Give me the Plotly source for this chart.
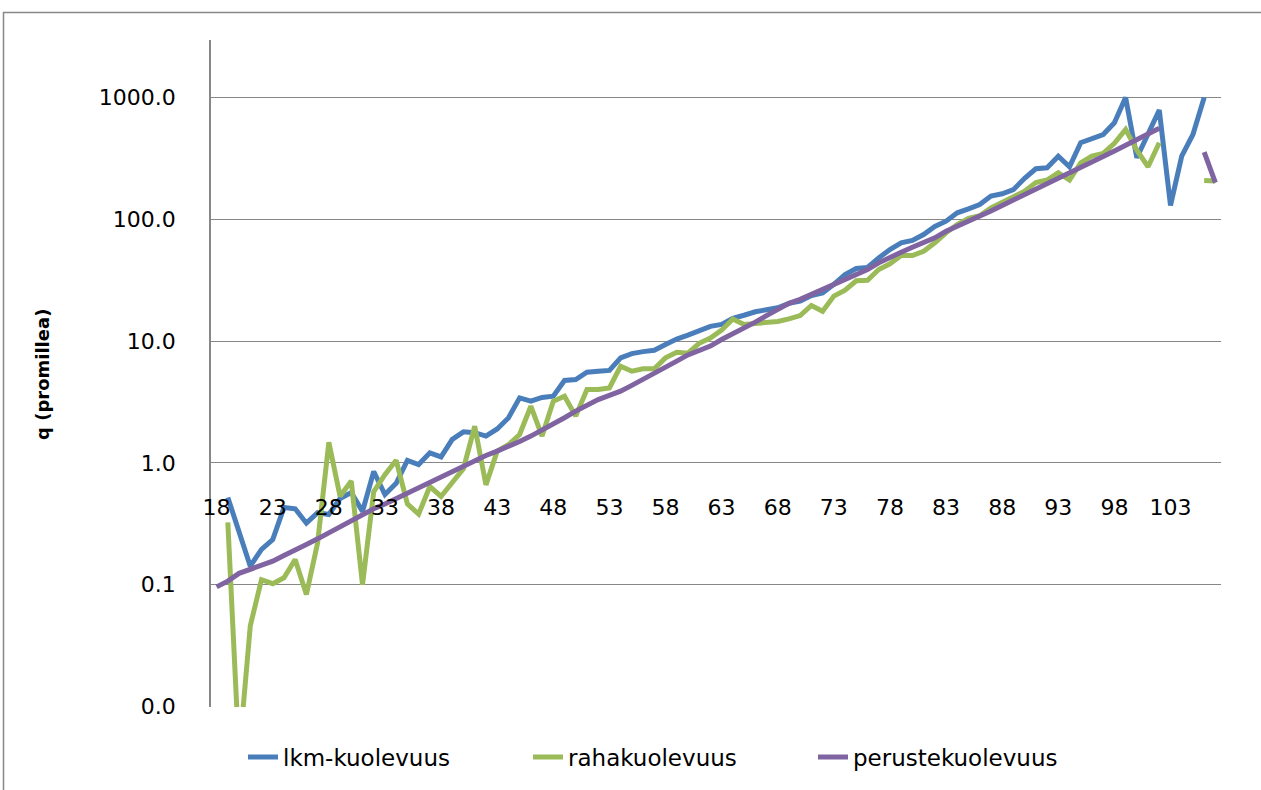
import plotly.graph_objects as go

ages = list(range(18, 108))

lkm_kuolevuus = [
    None, 0.52, 0.27, 0.142, 0.195, 0.235, 0.43, 0.42, 0.32, 0.39,
    0.377, 0.51, 0.57, 0.40, 0.85, 0.55, 0.68, 1.05, 0.97, 1.21,
    1.12, 1.56, 1.80, 1.77, 1.66, 1.90, 2.34, 3.42, 3.21, 3.45,
    3.53, 4.75, 4.84, 5.55, 5.66, 5.75, 7.28, 7.90, 8.2, 8.42,
    9.37, 10.4, 11.2, 12.1, 13.2, 13.7, 15.4, 16.3, 17.4, 18.1,
    18.8, 20.4, 21.3, 23.7, 24.9, 29.2, 35.2, 39.5, 40.3, 48.2,
    56.5, 64.1, 67.0, 75.0, 87.3, 96.5, 113, 122, 132, 155,
    162, 175, 217, 260, 265, 330, 270, 425, 458, 497,
    620, 1000, 320, 503, 787, 130, 330, 497, 1000, None,
]

rahakuolevuus = [
    None, 0.325, 0.004, 0.046, 0.110, 0.102, 0.114, 0.161, 0.083, 0.221,
    1.48, 0.533, 0.71, 0.10, 0.58, 0.8, 1.05, 0.46, 0.38, 0.64,
    0.53, 0.69, 0.9, 2.0, 0.66, 1.25, 1.41, 1.71, 2.92, 1.66,
    3.21, 3.53, 2.42, 4.0, 4.0, 4.13, 6.22, 5.66, 5.92, 5.92,
    7.28, 8.1, 7.95, 9.6, 10.6, 12.3, 15.2, 13.7, 14.0, 14.0,
    14.5, 15.2, 16.2, 19.6, 17.6, 23.4, 26.2, 31.3, 31.6, 38.7,
    43.1, 50.4, 50.4, 54.7, 64.1, 77.5, 90.6, 102, 107, 124,
    137, 150, 170, 200, 210, 241, 210, 291, 330, 347,
    420, 547, 370, 270, 425, None, None, None, 208, 206,
]

perustekuolevuus = [
    0.096, 0.107, 0.124, 0.133, 0.144, 0.156, 0.174, 0.195, 0.214, 0.238,
    0.267, 0.299, 0.339, 0.377, 0.42, 0.46, 0.51, 0.56, 0.62, 0.69,
    0.77, 0.85, 0.94, 1.04, 1.15, 1.25, 1.36, 1.50, 1.66, 1.85,
    2.07, 2.35, 2.66, 2.97, 3.31, 3.58, 3.88, 4.33, 4.83, 5.39,
    6.02, 6.85, 7.7, 8.4, 9.1, 10.3, 11.4, 12.6, 14.3, 16.2,
    18.2, 20.4, 22.0, 24.2, 26.2, 29.2, 32.5, 35.0, 38.7, 43.9,
    48.9, 53.7, 59.0, 64.9, 70.5, 79.8, 87.7, 96.4, 104, 117,
    130, 144, 158, 173, 192, 214, 237, 264, 294, 327,
    364, 404, 450, 502, 560, None, None, None, 356, 200,
]

x_tick_ages = list(range(18, 104, 5))
y_tick_vals = [0.01, 0.1, 1, 10, 100, 1000]
y_tick_text = ["0.0", "0.1", "1.0", "10.0", "100.0", "1000.0"]

series = [
    ("lkm-kuolevuus", lkm_kuolevuus, "#4A7EBB"),
    ("rahakuolevuus", rahakuolevuus, "#9BBB59"),
    ("perustekuolevuus", perustekuolevuus, "#8064A2"),
]

FONT = "DejaVu Sans"
GRID = "#878787"
OFF = 0  # page body margin removed via post_script

fig = go.Figure()
for name, vals, color in series:
    fig.add_trace(go.Scatter(
        x=ages, y=vals, name=name, mode="lines",
        line=dict(color=color, width=5),
        connectgaps=False,
    ))

W, H = 1261, 790
# desired plot area in page pixels
PL, PR, PT, PB = 211, 1221, 40, 707
L_PX = PL - OFF
R_PX = W - (PR - OFF)
T_PX = PT - OFF
B_PX = H - (PB - OFF)
plot_w = PR - PL
plot_h = PB - PT
y_lo, y_hi = -2.004, 3.472
x_axis_pos = (0 - y_lo) / (y_hi - y_lo)


def px_x(p):
    return (p - PL) / plot_w


def px_y(p):
    return (PB - p) / plot_h


fig.update_layout(
    width=W, height=H,
    margin=dict(l=L_PX, r=R_PX, t=T_PX, b=B_PX),
    paper_bgcolor="white", plot_bgcolor="white",
    font=dict(family=FONT, size=22, color="#000000"),
    showlegend=True,
    legend=dict(
        orientation="h", x=px_x(243), xanchor="left",
        y=px_y(757), yanchor="middle",
        font=dict(family=FONT, size=23, color="#000000"),
        entrywidth=240, entrywidthmode="pixels",
        bgcolor="rgba(0,0,0,0)",
    ),
    xaxis=dict(
        range=[17.5, 107.5], tickmode="array", tickvals=x_tick_ages,
        ticktext=[str(a) for a in x_tick_ages],
        showgrid=False, zeroline=False, showline=False, ticks="",
        anchor="free", position=x_axis_pos,
        ticklabelstandoff=29,
        tickfont=dict(family=FONT, size=22, color="#000000"),
    ),
    yaxis=dict(
        type="log", range=[y_lo, y_hi],
        tickmode="array", tickvals=y_tick_vals, ticktext=y_tick_text,
        showgrid=True, gridcolor=GRID, gridwidth=1.3,
        zeroline=False, showline=True, linecolor=GRID, linewidth=1.5,
        ticks="", ticklabelstandoff=29,
        tickfont=dict(family=FONT, size=22, color="#000000"),
    ),
    annotations=[dict(
        text="<b>q (promillea)</b>", textangle=-90,
        xref="paper", yref="paper",
        x=px_x(42), y=px_y(375), xanchor="center", yanchor="middle",
        showarrow=False, font=dict(family=FONT, size=18, color="#000000"),
    )],
    shapes=[dict(
        type="rect", xref="paper", yref="paper", layer="below",
        x0=px_x(3.5), x1=px_x(1285),
        y0=px_y(810), y1=px_y(12.5),
        line=dict(color=GRID, width=1.5), fillcolor="rgba(0,0,0,0)",
    )],
)

fig.write_html(
    "out.html",
    config={"displayModeBar": False},
    post_script="document.body.style.margin='0';document.body.style.overflow='hidden';",
)
